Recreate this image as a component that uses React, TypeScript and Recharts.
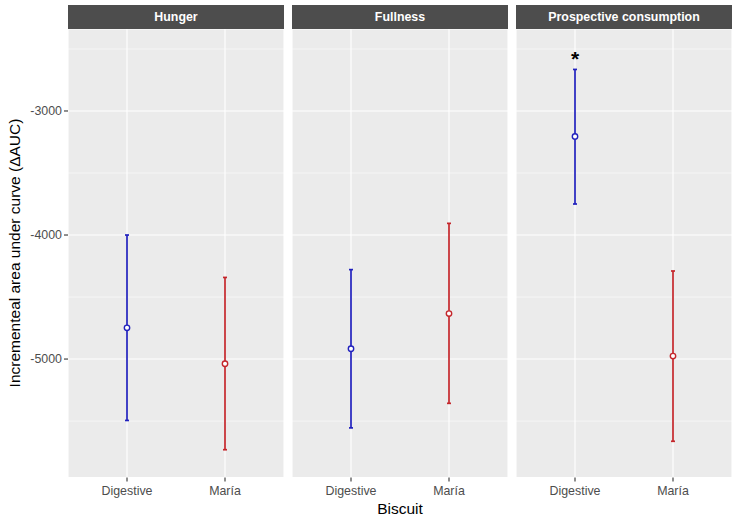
import { ScatterChart, Scatter, XAxis, YAxis, CartesianGrid, ErrorBar, ReferenceDot } from 'recharts'

const biscuits = ['Digestive', 'María']
const facets = ['Hunger', 'Fullness', 'Prospective consumption']

// mean, lower and upper limit per biscuit (Digestive, María)
const hungerMean = [-4748, -5038]
const hungerLow = [-5495, -5731]
const hungerHigh = [-4000, -4342]

const fullnessMean = [-4917, -4633]
const fullnessLow = [-5555, -5357]
const fullnessHigh = [-4279, -3906]

const prospectiveMean = [-3205, -4976]
const prospectiveLow = [-3750, -5663]
const prospectiveHigh = [-2665, -4290]

// significance marks per biscuit in the last facet
const prospectiveSig = ['*', '']

const yTicks = [-5000, -4000, -3000]
const yMinor = [-5500, -4500, -3500, -2500]
const yDomain = [-5955, -2339]

const biscuitColors = ['#2121BD', '#C4262B']

const FONT = '"Liberation Sans", Arial, sans-serif'
const PANEL_W = 216
const PANEL_LEFTS = [68, 292, 516]
const PLOT_TOP = 29
const CHART_H = 519

function buildRows(means: number[], lows: number[], highs: number[]) {
  return biscuits.map((b, i) => ({
    biscuit: b,
    mean: means[i],
    err: [means[i] - lows[i], highs[i] - means[i]],
  }))
}

function OpenPoint(props: any) {
  const { cx, cy, color } = props
  if (cx == null || cy == null) return null
  return <circle cx={cx} cy={cy} r={2.7} fill="#FFFFFF" stroke={color} strokeWidth={1.4} />
}

interface PanelProps {
  means: number[]
  lows: number[]
  highs: number[]
  showY: boolean
  sig?: string[]
}

function Panel({ means, lows, highs, showY, sig }: PanelProps) {
  const rows = buildRows(means, lows, highs)
  const yWidth = showY ? 68 : 0
  return (
    <ScatterChart
      width={PANEL_W + yWidth}
      height={CHART_H}
      margin={{ top: PLOT_TOP, right: 0, bottom: 0, left: 0 }}
    >
      <CartesianGrid
        fill="#EBEBEB"
        stroke="#FFFFFF"
        strokeWidth={0.55}
        vertical={false}
        horizontalValues={yMinor}
      />
      <CartesianGrid stroke="#FFFFFF" strokeWidth={1.1} />
      <XAxis
        dataKey="biscuit"
        type="category"
        allowDuplicatedCategory={false}
        padding={{ left: 10, right: 10 }}
        height={41.5}
        axisLine={false}
        tickSize={4}
        tickMargin={5}
        tickLine={{ stroke: '#333333', strokeWidth: 1.1 }}
        tick={{ fill: '#4D4D4D', fontSize: 12.4, fontFamily: FONT }}
      />
      <YAxis
        dataKey="mean"
        type="number"
        domain={yDomain}
        ticks={yTicks}
        hide={!showY}
        width={yWidth}
        axisLine={false}
        tickSize={4}
        tickMargin={2}
        tickLine={{ stroke: '#333333', strokeWidth: 1.1 }}
        tick={{ fill: '#4D4D4D', fontSize: 12.4, fontFamily: FONT }}
      />
      {rows.map((row, i) => (
        <Scatter
          key={row.biscuit}
          data={[row]}
          dataKey="mean"
          isAnimationActive={false}
          shape={(p: any) => <OpenPoint {...p} color={biscuitColors[i]} />}
        >
          <ErrorBar
            dataKey="err"
            direction="y"
            width={2}
            stroke={biscuitColors[i]}
            strokeWidth={1.7}
          />
        </Scatter>
      ))}
      {sig &&
        sig.map((s, i) =>
          s ? (
            <ReferenceDot
              key={'sig' + i}
              x={biscuits[i]}
              y={highs[i]}
              r={0}
              fill="none"
              stroke="none"
              label={{ value: s, position: 'top', offset: 3, fontSize: 21, fontWeight: 'bold', fill: '#000000', fontFamily: FONT }}
            />
          ) : null
        )}
    </ScatterChart>
  )
}

export default function App() {
  const series = [
    { means: hungerMean, lows: hungerLow, highs: hungerHigh },
    { means: fullnessMean, lows: fullnessLow, highs: fullnessHigh },
    { means: prospectiveMean, lows: prospectiveLow, highs: prospectiveHigh, sig: prospectiveSig },
  ]
  return (
    <div style={{ position: 'absolute', left: 0, top: 0, width: 740, height: 519, background: '#FFFFFF', fontFamily: FONT }}>
      {series.map((s, i) => (
        <div key={facets[i]} style={{ position: 'absolute', top: 0, left: i === 0 ? 0 : PANEL_LEFTS[i] }}>
          <Panel means={s.means} lows={s.lows} highs={s.highs} sig={s.sig} showY={i === 0} />
        </div>
      ))}
      {facets.map((f, i) => (
        <div
          key={'strip' + f}
          style={{
            position: 'absolute',
            left: PANEL_LEFTS[i],
            top: 5,
            width: PANEL_W,
            height: 24,
            lineHeight: '24px',
            background: '#4D4D4D',
            color: '#FFFFFF',
            fontWeight: 'bold',
            fontSize: 12.4,
            textAlign: 'center',
          }}
        >
          {f}
        </div>
      ))}
      <div
        style={{
          position: 'absolute',
          left: 68,
          width: 664,
          top: 500,
          textAlign: 'center',
          fontSize: 15.5,
          color: '#000000',
        }}
      >
        Biscuit
      </div>
      <div
        style={{
          position: 'absolute',
          left: 15,
          top: 253,
          width: 0,
          height: 0,
        }}
      >
        <div
          style={{
            position: 'absolute',
            transform: 'translate(-50%, -50%) rotate(-90deg)',
            whiteSpace: 'nowrap',
            fontSize: 15.5,
            color: '#000000',
          }}
        >
          Incrementeal area under curve (ΔAUC)
        </div>
      </div>
    </div>
  )
}
